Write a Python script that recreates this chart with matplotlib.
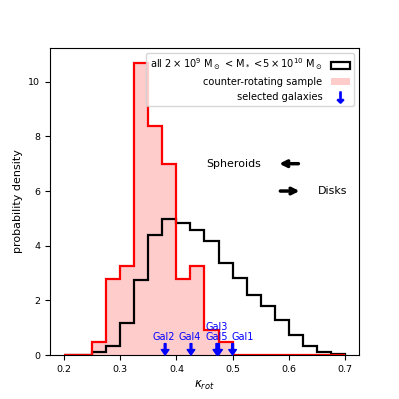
import numpy as np
import matplotlib
matplotlib.use("Agg")
import matplotlib.pyplot as plt
from matplotlib.lines import Line2D

# ==========================================
# Data (probability density per bin)
# ==========================================

bin_edges = np.linspace(0.2, 0.7, 21)

all_density = [0.0, 0.02, 0.13, 0.35, 1.18, 2.74, 4.38, 4.96, 4.83, 4.56,
               4.17, 3.36, 2.83, 2.19, 1.79, 1.28, 0.72, 0.33, 0.12, 0.05]

counter_density = [0.0, 0.0, 0.47, 2.79, 3.26, 10.70, 8.37, 6.98, 2.79, 3.26,
                   0.93, 0.47, 0.0, 0.0, 0.0, 0.0, 0.0, 0.0, 0.0, 0.0]

gal_names = ["Gal1", "Gal2", "Gal3", "Gal4", "Gal5"]
gal_kappa = [0.500, 0.380, 0.472, 0.426, 0.475]
gal_label_x = [0.518, 0.377, 0.471, 0.424, 0.471]
gal_label_y = [0.55, 0.55, 0.91, 0.55, 0.55]

bin_centers = 0.5 * (bin_edges[:-1] + bin_edges[1:])

# ==========================================
# Plot
# ==========================================

fig, ax = plt.subplots(figsize=(3.99, 3.99), dpi=100)

ax.hist(bin_centers, bins=bin_edges, weights=all_density,
        histtype="step", color="black", lw=1.6)
ax.hist(bin_centers, bins=bin_edges, weights=counter_density,
        histtype="stepfilled", color="red", alpha=0.2)
ax.hist(bin_centers, bins=bin_edges, weights=counter_density,
        histtype="step", color="red", lw=1.6)

for k in gal_kappa:
    ax.annotate("", xy=(k, 0), xytext=(k, 0.42),
                arrowprops=dict(facecolor="blue", edgecolor="blue",
                                width=1.3, headwidth=5.5, headlength=4,
                                shrink=0))
for name, lx, ly in zip(gal_names, gal_label_x, gal_label_y):
    ax.text(lx, ly, name, color="blue", fontsize=7, ha="center",
            va="baseline")

# Spheroids / Disks arrows
ax.annotate("", xy=(0.578, 7.0), xytext=(0.622, 7.0),
            arrowprops=dict(arrowstyle="->", lw=2.5, color="black",
                            mutation_scale=10))
ax.text(0.453, 7.0, "Spheroids", fontsize=7.9, va="center")
ax.annotate("", xy=(0.624, 6.0), xytext=(0.580, 6.0),
            arrowprops=dict(arrowstyle="->", lw=2.5, color="black",
                            mutation_scale=10))
ax.text(0.651, 6.0, "Disks", fontsize=7.9, va="center")

ax.set_xlabel(r"$\kappa_{rot}$", fontsize=8.5)
ax.set_ylabel("probability density", fontsize=8)
ax.tick_params(labelsize=6.8)

handles = [
    plt.Rectangle((0, 0), 1, 1, facecolor="none", edgecolor="black", lw=1.6),
    plt.Rectangle((0, 0), 1, 1, facecolor="red", alpha=0.2),
    Line2D([], [], marker=r"$\downarrow$", color="blue", linestyle="none",
           markersize=8),
]
labels = [
    r"all $2\times10^9$ M$_\odot$ < M$_*$ <$5\times10^{10}$ M$_\odot$",
    "counter-rotating sample",
    "selected galaxies",
]
ax.legend(handles, labels, loc="upper right", markerfirst=False,
          fontsize=7.1)

plt.savefig("out.png")
